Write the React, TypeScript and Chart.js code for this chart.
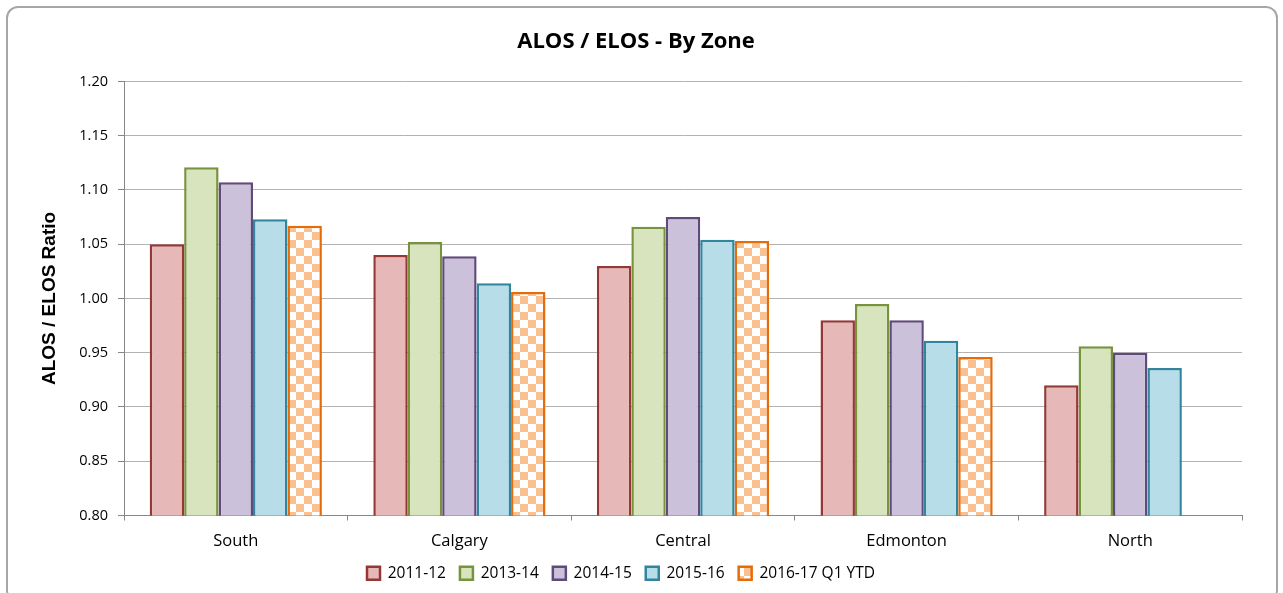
import React, { useEffect, useRef } from "react";
import { Chart, registerables } from "chart.js";

Chart.register(...registerables);

const categories = ["South", "Calgary", "Central", "Edmonton", "North"];
const seriesLabels = ["2011-12", "2013-14", "2014-15", "2015-16", "2016-17 Q1 YTD"];
const s2011 = [1.05, 1.04, 1.03, 0.98, 0.92];
const s2013 = [1.121, 1.052, 1.066, 0.995, 0.956];
const s2014 = [1.107, 1.039, 1.075, 0.98, 0.95];
const s2015 = [1.073, 1.014, 1.054, 0.961, 0.936];
const s2016: (number | null)[] = [1.067, 1.006, 1.053, 0.946, null];
const yTicks = [0.8, 0.85, 0.9, 0.95, 1.0, 1.05, 1.1, 1.15, 1.2];

function makeChecker(ctx: CanvasRenderingContext2D): CanvasPattern | string {
  const c = document.createElement("canvas");
  c.width = 16;
  c.height = 16;
  const g = c.getContext("2d");
  if (!g) return "#FAC090";
  g.fillStyle = "#ffffff";
  g.fillRect(0, 0, 16, 16);
  g.fillStyle = "#FAC090";
  g.fillRect(0, 0, 8, 8);
  g.fillRect(8, 8, 8, 8);
  return ctx.createPattern(c, "repeat") || "#FAC090";
}

const shiftTitle = {
  id: "shiftTitle",
  afterLayout(chart: any) {
    const t = chart.titleBlock;
    if (t) {
      t.left += 15;
      t.right += 15;
    }
  },
};

export default function App() {
  const ref = useRef<HTMLCanvasElement | null>(null);

  useEffect(() => {
    const canvas = ref.current;
    if (!canvas) return;
    const ctx = canvas.getContext("2d");
    if (!ctx) return;
    const checker = makeChecker(ctx);

    Chart.defaults.font.family = "'Open Sans', sans-serif";
    Chart.defaults.color = "#000";

    const fills = ["#E6B9B8", "#D7E4BD", "#CCC1DA", "#B7DEE8", checker];
    const borders = ["#953735", "#77933C", "#604A7B", "#31859C", "#E46C0A"];
    const values = [s2011, s2013, s2014, s2015, s2016];

    const chart = new Chart(ctx, {
      type: "bar",
      data: {
        labels: categories,
        datasets: values.map((v, i) => ({
          label: seriesLabels[i],
          data: v,
          backgroundColor: fills[i] as any,
          borderColor: borders[i],
          borderWidth: 2.5,
          borderSkipped: false,
          categoryPercentage: 0.77,
          barPercentage: 1.0,
        })),
      },
      plugins: [shiftTitle],
      options: {
        responsive: false,
        animation: false,
        layout: { padding: { left: 0, right: 41, top: 0, bottom: 2 } },
        plugins: {
          tooltip: { enabled: false },
          title: {
            display: true,
            text: "ALOS / ELOS - By Zone",
            color: "#000",
            font: { family: "'Open Sans', sans-serif", size: 22, weight: "bold" },
            padding: { top: 29, bottom: 26 },
          },
          legend: {
            position: "bottom",
            labels: {
              boxWidth: 13,
              boxHeight: 13,
              padding: 14,
              color: "#000",
              font: { family: "'Open Sans', sans-serif", size: 15.5 },
            },
          },
        },
        scales: {
          x: {
            afterFit: (s: any) => {
              s.height = 36;
            },
            grid: {
              display: true,
              drawOnChartArea: false,
              drawTicks: true,
              tickLength: 5,
              offset: true,
              color: "#868686",
            },
            border: { display: true, color: "#868686", width: 1 },
            ticks: {
              padding: 11,
              color: "#000",
              font: { family: "'Open Sans', sans-serif", size: 16.5 },
            },
          },
          y: {
            min: 0.8,
            max: 1.2,
            afterFit: (s: any) => {
              s.width = 124;
            },
            afterBuildTicks: (s: any) => {
              s.ticks = yTicks.map((v) => ({ value: v }));
            },
            grid: {
              color: "#b3b3b3",
              lineWidth: 1,
              drawTicks: true,
              tickLength: 6,
              tickColor: "#868686",
            },
            border: { display: true, color: "#868686", width: 1 },
            ticks: {
              padding: 10,
              color: "#000",
              font: { family: "'Open Sans', sans-serif", size: 14.5 },
              callback: (v: any) => Number(v).toFixed(2),
            },
            title: {
              display: true,
              text: "ALOS / ELOS Ratio",
              color: "#000",
              font: { family: "'Liberation Sans', Arial, sans-serif", size: 19, weight: "bold" },
              padding: { top: 38, bottom: 0 },
            },
          },
        },
      },
    });
    return () => chart.destroy();
  }, []);

  return (
    <div style={{ position: "fixed", left: 0, top: 0, width: 1283, height: 593, overflow: "hidden", background: "#fff" }}>
      <div
        style={{
          position: "absolute",
          left: 6,
          top: 6,
          width: 1272,
          height: 596,
          border: "2.5px solid #a6a6a6",
          borderRadius: 12,
          boxSizing: "border-box",
        }}
      />
      <canvas ref={ref} width={1283} height={593} style={{ position: "absolute", left: 0, top: 0, width: 1283, height: 593 }} />
    </div>
  );
}
